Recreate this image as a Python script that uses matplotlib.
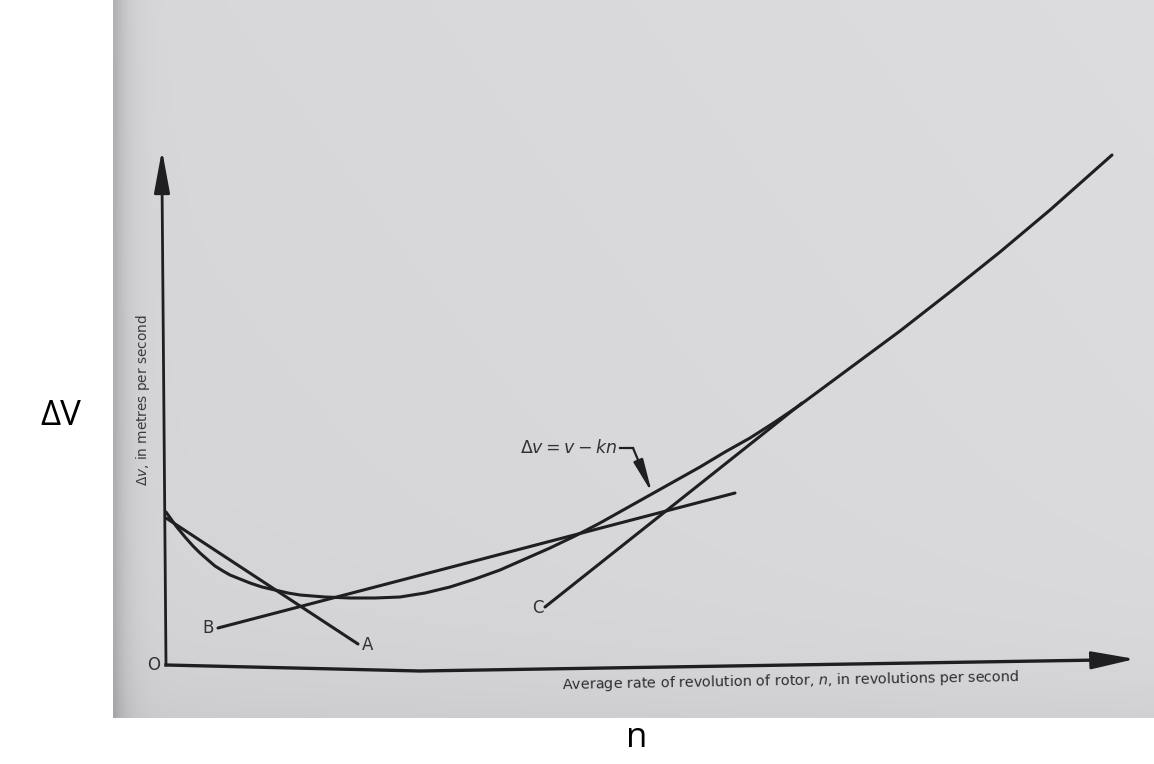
import numpy as np
import matplotlib
matplotlib.use("Agg")
import matplotlib.pyplot as plt

# Delta-v curve against average rotor revolution rate (arbitrary units)
curve_n = [0.00, 0.05, 0.10, 0.19, 0.27, 0.34, 0.42, 0.49, 0.57, 0.64, 0.74,
           0.84, 0.96, 1.09, 1.22, 1.34, 1.59, 1.84, 2.09, 2.34, 2.59, 2.84,
           3.09, 3.34, 3.59, 3.84, 4.09, 4.34, 4.59, 4.84, 5.09, 5.34, 5.59,
           5.84, 6.09, 6.34, 6.84, 7.34, 7.84, 8.34, 8.84, 9.46]
curve_dv = [1.53, 1.46, 1.39, 1.28, 1.19, 1.12, 1.05, 0.99, 0.94, 0.90, 0.86,
            0.82, 0.78, 0.75, 0.72, 0.70, 0.68, 0.67, 0.67, 0.68, 0.72, 0.78,
            0.86, 0.95, 1.06, 1.17, 1.29, 1.42, 1.56, 1.70, 1.84, 1.98, 2.13,
            2.27, 2.43, 2.60, 2.97, 3.34, 3.73, 4.13, 4.55, 5.10]

# Straight-line approximations A, B, C: (start n, end n), (start dv, end dv)
line_a_n, line_a_dv = [0.00, 1.92], [1.47, 0.21]
line_b_n, line_b_dv = [0.52, 5.69], [0.37, 1.72]
line_c_n, line_c_dv = [3.79, 6.36], [0.58, 2.62]

# Hand-drawn axes (slightly sagging abscissa)
xaxis_n, xaxis_dv = [0.00, 2.54, 9.35], [0.00, -0.06, 0.05]
yaxis_n, yaxis_dv = [0.00, -0.04], [0.00, 4.85]
xaxis_tip = (9.69, 0.06)
yaxis_tip = (-0.04, 5.15)

# Equation callout
eq_text_pos = (4.51, 2.17)
eq_elbow = [(4.54, 2.17), (4.67, 2.17)]
eq_target = (4.86, 1.72)

ink = "#1f1f22"

fig = plt.figure(figsize=(11.54, 7.64), dpi=100, facecolor="white")
ax = fig.add_axes([113 / 1154, 46 / 764, 1041 / 1154, 718 / 764])
xlim = (-0.53, 9.88)
ylim = (-0.53, 6.65)
ax.set_xlim(*xlim)
ax.set_ylim(*ylim)
ax.set_axis_off()

# Paper background with gentle shading toward the edges
H, W = 180, 260
u = np.linspace(0, 1, W)[None, :]
v = np.linspace(1, 0, H)[:, None]
shade = (0.855 - 0.15 * np.exp(-u / 0.012) - 0.035 * np.exp(-v / 0.08)
         - 0.02 * (1 - u) + 0.01 * v)
bg = np.dstack([shade, shade - 0.004, shade + 0.004])
bg = np.clip(bg, 0, 1)
ax.imshow(bg, extent=(*xlim, *ylim), aspect="auto", zorder=0,
          interpolation="bilinear")

lw = 2.2
ax.plot(curve_n, curve_dv, color=ink, lw=lw, solid_capstyle="round",
        solid_joinstyle="round", zorder=3)
for xs, ys in [(line_a_n, line_a_dv), (line_b_n, line_b_dv),
               (line_c_n, line_c_dv)]:
    ax.plot(xs, ys, color=ink, lw=lw, solid_capstyle="round", zorder=3)

# Axes with arrowheads
ax.plot(xaxis_n, xaxis_dv, color=ink, lw=2.4, zorder=3)
ax.plot(yaxis_n, yaxis_dv, color=ink, lw=2.0, zorder=3)
ax.annotate("", xy=xaxis_tip, xytext=(xaxis_n[-1], xaxis_dv[-1]),
            arrowprops=dict(arrowstyle="-|>,head_length=2.7,head_width=0.55",
                            color=ink, lw=2.0, mutation_scale=10,
                            shrinkA=0, shrinkB=0), zorder=4)
ax.annotate("", xy=yaxis_tip, xytext=(yaxis_n[-1], yaxis_dv[-1]),
            arrowprops=dict(arrowstyle="-|>,head_length=2.6,head_width=0.48",
                            color=ink, lw=2.0, mutation_scale=10,
                            shrinkA=0, shrinkB=0), zorder=4)

lab_kw = dict(color="#333335", fontsize=12, zorder=5)
ax.annotate("A", xy=(line_a_n[1], line_a_dv[1]), xytext=(3, -1),
            textcoords="offset points", ha="left", va="center", **lab_kw)
ax.annotate("B", xy=(line_b_n[0], line_b_dv[0]), xytext=(-3, 0),
            textcoords="offset points", ha="right", va="center", **lab_kw)
ax.annotate("C", xy=(line_c_n[0], line_c_dv[0]), xytext=(-1, -1),
            textcoords="offset points", ha="right", va="center", **lab_kw)
ax.annotate("O", xy=(0, 0), xytext=(-4, 0), textcoords="offset points",
            ha="right", va="center", **lab_kw)

# Equation label with leader arrow
ax.text(*eq_text_pos, r"$\Delta v = v - kn$", ha="right", va="center",
        fontsize=12.5, color="#333335", zorder=5)
ax.plot([p[0] for p in eq_elbow], [p[1] for p in eq_elbow], color=ink,
        lw=1.6, zorder=4)
ax.annotate("", xy=eq_target, xytext=eq_elbow[-1],
            arrowprops=dict(arrowstyle="-|>,head_length=2.0,head_width=0.3",
                            color=ink, lw=1.6, mutation_scale=10,
                            shrinkA=0, shrinkB=0), zorder=4)

# Axis captions printed on the page
ax.text(-0.23, 2.65, r"$\Delta v$, in metres per second", rotation=90,
        ha="center", va="center", fontsize=9.8, color="#3a3a3c", zorder=5)
ax.text(6.25, -0.16,
        r"Average rate of revolution of rotor, $n$, in revolutions per second",
        rotation=1.0, ha="center", va="center", fontsize=10.4,
        color="#2e2e30", zorder=5)

# Large labels outside the page
fig.text(61 / 1154, 1 - 416 / 764, "ΔV", fontsize=25, family="Open Sans",
         ha="center", va="center", color="black")
fig.text(637 / 1154, 1 - 738 / 764, "n", fontsize=25, family="Open Sans",
         ha="center", va="center", color="black")

fig.savefig("out.png", dpi=100, facecolor="white")
